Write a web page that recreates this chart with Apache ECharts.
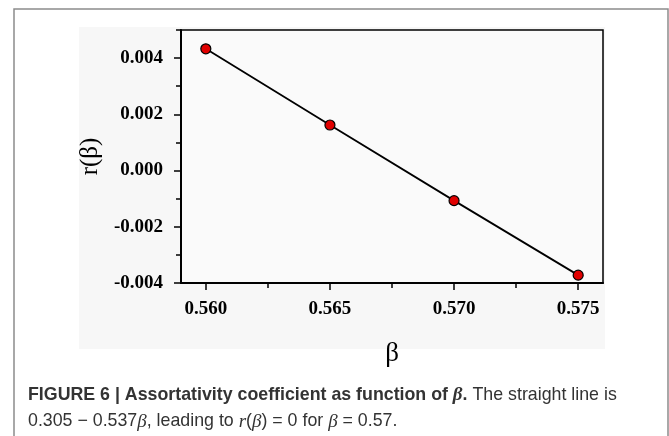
<!DOCTYPE html>
<html>
<head>
  <meta charset="utf-8" />
  <title>Assortativity coefficient vs beta</title>
  <script src="https://cdn.jsdelivr.net/npm/echarts/dist/echarts.min.js"></script>
  <style>
    html, body { margin: 0; padding: 0; background: #fff; }
    #chart { width: 669px; height: 436px; }
  </style>
</head>
<body>
  <div id="chart"></div>
  <script>
    // data
    const betaValues = [0.560, 0.565, 0.570, 0.575];
    const rValues = [0.00433, 0.00162, -0.00107, -0.00372];

    // tick positions
    const xMajorTicks = [0.560, 0.565, 0.570, 0.575];
    const xMinorTicks = [0.5625, 0.5675, 0.5725];
    const yMajorTicks = [-0.004, -0.002, 0.000, 0.002, 0.004];
    const yMinorTicks = [-0.003, -0.001, 0.001, 0.003, 0.005];

    const serif = '"Liberation Serif", "DejaVu Serif", serif';
    const sans = '"Liberation Sans", Arial, sans-serif';

    const chart = echarts.init(document.getElementById('chart'));

    const fmt = v => v.toFixed(3);

    const option = {
      animation: false,
      grid: {
        left: 181, top: 30, right: 66, bottom: 153,
        show: true, borderColor: '#000', borderWidth: 1.5,
        backgroundColor: '#fafafa'
      },
      xAxis: [{
        type: 'value', min: 0.559, max: 0.576,
        name: 'β', nameLocation: 'middle', nameGap: 57,
        nameTextStyle: { fontFamily: serif, fontSize: 27, color: '#000' },
        axisLine: { onZero: false, lineStyle: { color: '#000', width: 2 } },
        axisTick: { show: true, length: 7, customValues: xMajorTicks, lineStyle: { color: '#000', width: 1.5 } },
        axisLabel: { customValues: xMajorTicks, formatter: fmt, margin: 17,
          fontFamily: serif, fontWeight: 'bold', fontSize: 19, color: '#000' },
        splitLine: { show: false }
      }, {
        type: 'value', min: 0.559, max: 0.576, position: 'bottom',
        axisLine: { show: false, onZero: false },
        axisTick: { show: true, length: 5, customValues: xMinorTicks, lineStyle: { color: '#000', width: 1.5 } },
        axisLabel: { show: false },
        splitLine: { show: false }
      }],
      yAxis: [{
        type: 'value', min: -0.004, max: 0.005,
        name: 'r(β)', nameLocation: 'middle', nameGap: 76, nameRotate: 90,
        nameTextStyle: { fontFamily: serif, fontSize: 25, color: '#000' },
        axisLine: { show: true, onZero: false, lineStyle: { color: '#000', width: 2 } },
        axisTick: { show: true, length: 7, customValues: yMajorTicks, lineStyle: { color: '#000', width: 1.5 } },
        axisLabel: { customValues: yMajorTicks, formatter: fmt, margin: 18,
          fontFamily: serif, fontWeight: 'bold', fontSize: 19, color: '#000' },
        splitLine: { show: false }
      }, {
        type: 'value', min: -0.004, max: 0.005, position: 'left',
        axisLine: { show: false, onZero: false },
        axisTick: { show: true, length: 5, customValues: yMinorTicks, lineStyle: { color: '#000', width: 1.5 } },
        axisLabel: { show: false },
        splitLine: { show: false }
      }],
      series: [{
        type: 'line',
        data: betaValues.map((b, i) => [b, rValues[i]]),
        symbol: 'circle', symbolSize: 10,
        itemStyle: { color: '#e00000', borderColor: '#000', borderWidth: 1.2 },
        lineStyle: { color: '#000', width: 1.8 },
        z: 3
      }],
      graphic: [
        { type: 'rect', z: -10, silent: true,
          shape: { x: 79, y: 27, width: 526, height: 322 },
          style: { fill: '#f7f7f7' } },
        { type: 'rect', z: -9, silent: true,
          shape: { x: 14, y: 9, width: 654, height: 440 },
          style: { fill: 'none', stroke: '#8c8c8c', lineWidth: 1.5 } },
        { type: 'text', left: 28, top: 386,
          style: {
            text: '{b|FIGURE 6 | Assortativity coefficient as function of }{bi|β}{b|.}{n| The straight line is}',
            rich: {
              b: { fontFamily: sans, fontWeight: 'bold', fontSize: 17.8, fill: '#333' },
              bi: { fontFamily: serif, fontWeight: 'bold', fontStyle: 'italic', fontSize: 19, fill: '#333' },
              n: { fontFamily: sans, fontSize: 17.8, fill: '#333' }
            }
          } },
        { type: 'text', left: 28, top: 412,
          style: {
            text: '{n|0.305 − 0.537}{i|β}{n|, leading to }{i|r}{n|(}{i|β}{n|) = 0 for }{i|β}{n| = 0.57.}',
            rich: {
              n: { fontFamily: sans, fontSize: 17.8, fill: '#333' },
              i: { fontFamily: serif, fontStyle: 'italic', fontSize: 19, fill: '#333' }
            }
          } }
      ]
    };

    chart.setOption(option);
  </script>
</body>
</html>
